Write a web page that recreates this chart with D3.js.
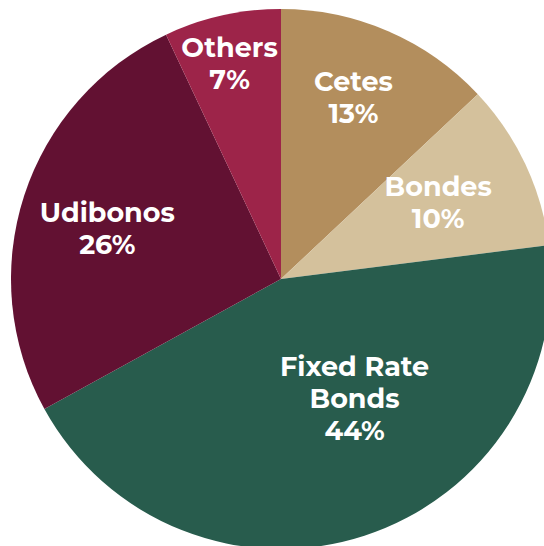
<!DOCTYPE html>
<html>
<head>
<meta charset="utf-8">
<script src="https://cdn.jsdelivr.net/npm/d3@7"></script>
<style>
  html, body { margin: 0; padding: 0; background: #ffffff; overflow: hidden; }
  svg { display: block; }
  .slice-label { font-family: "Montserrat", "Open Sans", sans-serif; font-weight: 700; fill: #ffffff; }
</style>
</head>
<body>
<svg id="chart" width="544" height="546"></svg>
<script>
// Government securities holdings by instrument (share of total, %)
const categories = ["Cetes", "Bondes", "Fixed Rate Bonds", "Udibonos", "Others"];
const labelLines = [["Cetes"], ["Bondes"], ["Fixed Rate", "Bonds"], ["Udibonos"], ["Others"]];
const shares = [13, 10, 44, 26, 7];
const colors = ["#B38E5D", "#D4C19C", "#285C4D", "#621132", "#9D2449"];

// Label placement: distance from centre and small angular nudge (degrees)
const labelRadius = [196, 175, 140, 181, 222];
const labelNudge = [-1.7, -0.9, -13.7, -1.7, -0.8];

const width = 544, height = 546;
const cx = 281, cy = 279, radius = 270;
const fontSize = 27, lineGap = 32, capHeight = 19.5;

const svg = d3.select("#chart");
const g = svg.append("g").attr("transform", `translate(${cx},${cy})`);

const pie = d3.pie().sort(null).value(d => d.value);
const arc = d3.arc().innerRadius(0).outerRadius(radius);

const data = categories.map((c, i) => ({ name: c, value: shares[i], color: colors[i], lines: labelLines[i], idx: i }));
const arcs = pie(data);

g.selectAll("path.slice")
  .data(arcs)
  .join("path")
  .attr("class", "slice")
  .attr("d", arc)
  .attr("fill", d => d.data.color);

const labels = g.selectAll("g.label")
  .data(arcs)
  .join("g")
  .attr("class", "label")
  .attr("transform", d => {
    const i = d.data.idx;
    const mid = (d.startAngle + d.endAngle) / 2 + labelNudge[i] * Math.PI / 180;
    const r = labelRadius[i];
    return `translate(${r * Math.sin(mid)},${-r * Math.cos(mid)})`;
  });

labels.each(function(d) {
  const lines = d.data.lines.concat([d.data.value + "%"]);
  const n = lines.length;
  const firstBaseline = -((n - 1) * lineGap) / 2 + capHeight / 2;
  d3.select(this).selectAll("text")
    .data(lines)
    .join("text")
    .attr("class", "slice-label")
    .attr("text-anchor", "middle")
    .attr("font-size", fontSize)
    .attr("x", 0)
    .attr("y", (t, k) => firstBaseline + k * lineGap)
    .text(t => t);
});
</script>
</body>
</html>
